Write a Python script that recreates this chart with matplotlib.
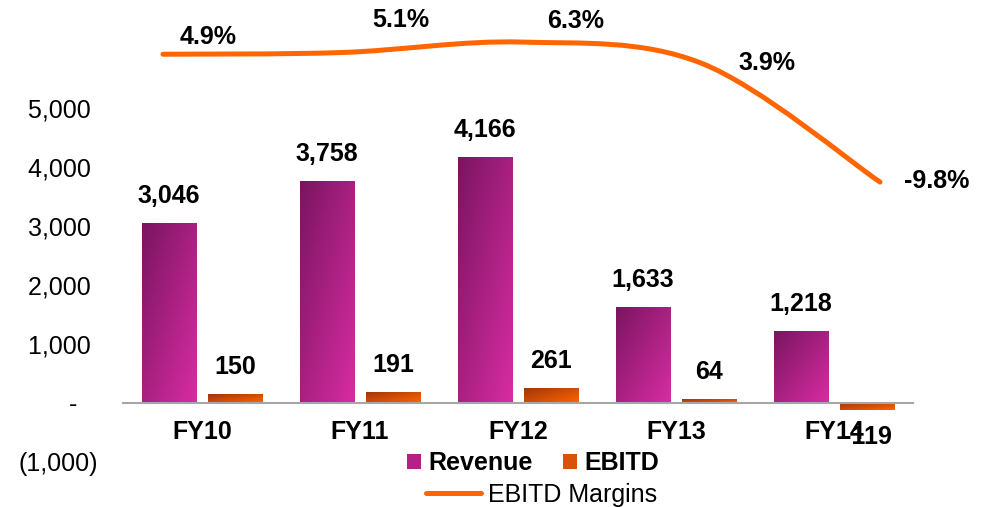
import numpy as np
import matplotlib
matplotlib.use("Agg")
import matplotlib.pyplot as plt
from matplotlib.colors import LinearSegmentedColormap
from matplotlib.lines import Line2D
from matplotlib.patches import Patch, PathPatch
from matplotlib.path import Path

plt.rcParams["font.family"] = ["Liberation Sans", "DejaVu Sans"]

YEARS = ["FY10", "FY11", "FY12", "FY13", "FY14"]
REVENUE = [3046, 3758, 4166, 1633, 1218]
EBITD = [150, 191, 261, 64, -119]
MARGIN = [4.9, 5.1, 6.3, 3.9, -9.8]
MARGIN_LABELS = ["4.9%", "5.1%", "6.3%", "3.9%", "-9.8%"]
Y_TICKS = [-1000, 0, 1000, 2000, 3000, 4000, 5000]
Y_TICK_LABELS = ["(1,000)", "-   ", "1,000 ", "2,000 ", "3,000 ", "4,000 ", "5,000 "]

# hand-nudged margin label spots, pixels from the point (left edge, centre)
MARGIN_LABEL_OFFSETS = [(17, 17), (30, 33), (26, 21), (38, 0), (24, 1)]

REV_COLORS = ("#7a1560", "#d82ca2")
EBITD_COLORS = ("#9e350c", "#ff6400")
LINE_COLOR = "#ff6600"
BAR_W = 0.342
BAR_OFF = 0.209


def gradient_fill(ax, bars, c0, c1):
    cmap = LinearSegmentedColormap.from_list("grad", [c0, c1])
    u = np.linspace(0, 1, 64)
    grad = (u[None, :] + u[:, None]) / 2  # row 0 is the top edge
    for bar in bars:
        x0, y0 = bar.get_x(), bar.get_y()
        w, h = bar.get_width(), bar.get_height()
        lo, hi = min(y0, y0 + h), max(y0, y0 + h)
        im = ax.imshow(grad, cmap=cmap, extent=(x0, x0 + w, lo, hi),
                       origin="upper", aspect="auto", zorder=2,
                       interpolation="bilinear")
        im.set_clip_path(bar)
        bar.set_facecolor("none")
        bar.set_edgecolor("none")


def smooth_path(xs, ys):
    # excel style smoothed line: bezier segments through each point
    pts = np.column_stack([xs, ys]).astype(float)
    ext = np.vstack([pts[0], pts, pts[-1]])
    verts = [pts[0]]
    codes = [Path.MOVETO]
    for i in range(len(pts) - 1):
        p0, p1, p2, p3 = ext[i], ext[i + 1], ext[i + 2], ext[i + 3]
        verts += [p1 + (p2 - p0) / 6, p2 - (p3 - p1) / 6, p2]
        codes += [Path.CURVE4] * 3
    return Path(verts, codes)


fig = plt.figure(figsize=(9.88, 5.07), dpi=100)
pos = [0.1245, 0.0888, 0.7996, 0.8728]
ax = fig.add_axes(pos)

x = np.arange(len(YEARS))
rev_bars = ax.bar(x - BAR_OFF, REVENUE, BAR_W, zorder=2)
eb_bars = ax.bar(x + BAR_OFF, EBITD, BAR_W, zorder=2)
gradient_fill(ax, rev_bars, *REV_COLORS)
gradient_fill(ax, eb_bars, *EBITD_COLORS)

for xi, v in zip(x - BAR_OFF, REVENUE):
    ax.annotate(f"{v:,}", xy=(xi, v), xytext=(0, 27 if v >= 0 else -27),
                textcoords="offset pixels", ha="center", va="center",
                fontsize=18, fontweight="bold")
for xi, v in zip(x + BAR_OFF, EBITD):
    ax.annotate(f"{v:,}", xy=(xi, v), xytext=(0, 27 if v >= 0 else -27),
                textcoords="offset pixels", ha="center", va="center",
                fontsize=18, fontweight="bold", zorder=4)

ax.set_xlim(-0.5, 4.5)
ax.set_ylim(-1000, 6500)
for s in ["top", "right", "left"]:
    ax.spines[s].set_visible(False)
ax.spines["bottom"].set_position(("data", 0))
ax.spines["bottom"].set_color("#a6a6a6")
ax.spines["bottom"].set_linewidth(1.5)
ax.spines["bottom"].set_zorder(3)
ax.set_yticks(Y_TICKS, Y_TICK_LABELS)
ax.tick_params(axis="y", length=0, pad=18, labelsize=18)
ax.set_xticks(x, YEARS, fontweight="bold")
ax.tick_params(axis="x", length=0, pad=12.5, labelsize=18)
ax.patch.set_alpha(0)

# margins sit on their own hidden axes
ax2 = fig.add_axes(pos)
ax2.set_xlim(-0.223, 4.184)
ax2.set_ylim(-42, 8.9)
ax2.axis("off")
ax2.add_patch(PathPatch(smooth_path(x, MARGIN), fill=False, edgecolor=LINE_COLOR,
                        linewidth=3.6, capstyle="round", clip_on=False))
for xi, m, lab, (dx, dy) in zip(x, MARGIN, MARGIN_LABELS, MARGIN_LABEL_OFFSETS):
    ax2.annotate(lab, xy=(xi, m), xytext=(dx, dy), textcoords="offset pixels",
                 ha="left", va="center", fontsize=18, fontweight="bold")

leg1 = fig.legend(handles=[Patch(facecolor="#b42088"), Patch(facecolor="#d9520a")],
                  labels=["Revenue", "EBITD"], loc="center",
                  bbox_to_anchor=(533 / 988, 44 / 507), ncol=2, frameon=False,
                  prop={"weight": "bold", "size": 18}, handlelength=0.55,
                  handleheight=0.55, handletextpad=0.3, columnspacing=1.2,
                  borderpad=0, borderaxespad=0)
leg2 = fig.legend(handles=[Line2D([0], [0], color=LINE_COLOR, lw=3.6,
                                  solid_capstyle="round")],
                  labels=["EBITD Margins"], loc="center",
                  bbox_to_anchor=(541.5 / 988, 12 / 507), frameon=False,
                  prop={"size": 18}, handlelength=2.2, handletextpad=0.25,
                  borderpad=0, borderaxespad=0)

fig.savefig("out.png", dpi=100)
